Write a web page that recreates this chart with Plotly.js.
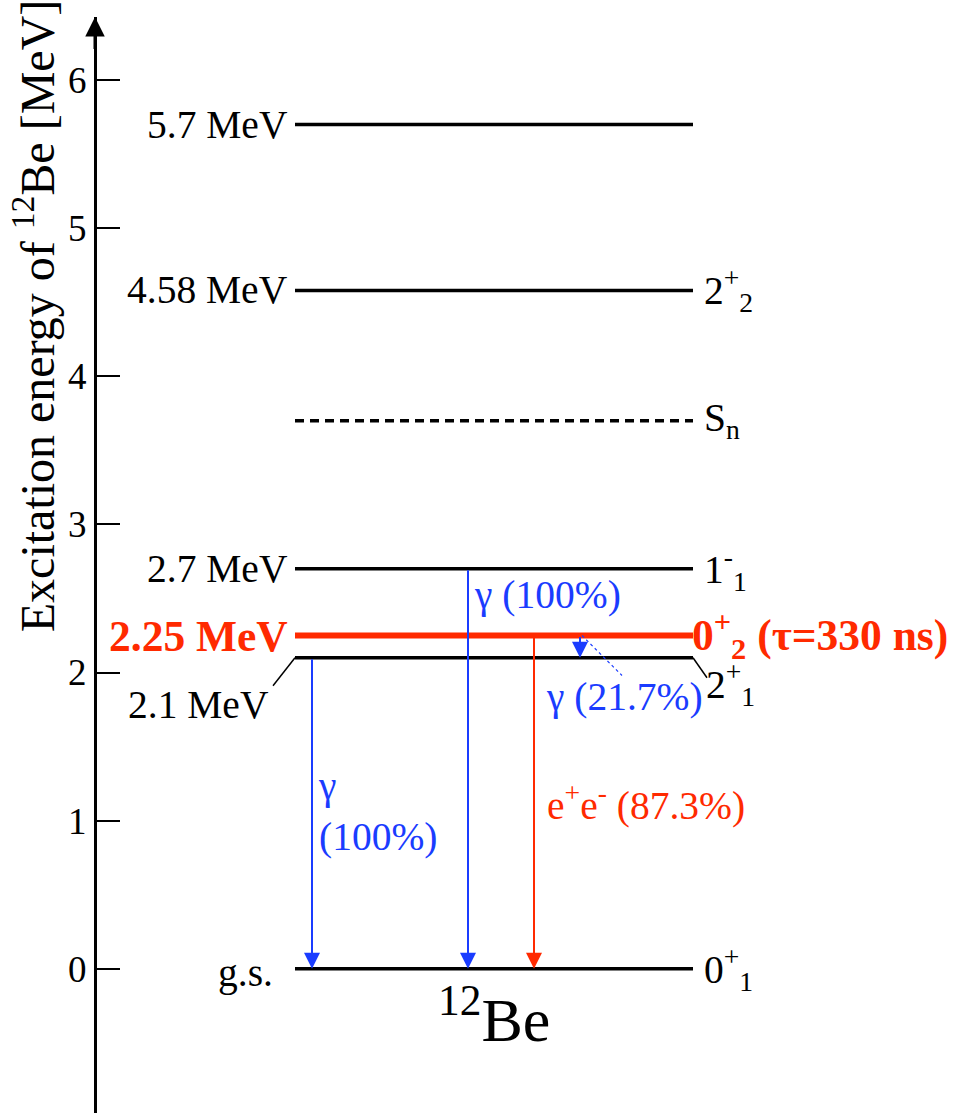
<!DOCTYPE html>
<html>
<head>
<meta charset="utf-8">
<script src="https://cdn.plot.ly/plotly-3.0.1.min.js"></script>
<style>html,body{margin:0;padding:0;background:#fff;}#chart{width:961px;height:1113px;}</style>
</head>
<body>
<div id="chart"></div>
<script>
// ---- data ----
const levelEnergy = [5.7, 4.58, 3.7, 2.7, 2.25, 2.1, 0];
const levelLeftLabel = ['5.7 MeV', '4.58 MeV', '', '2.7 MeV', '<b>2.25 MeV</b>', '2.1 MeV', 'g.s.'];
const levelRightLabel = ['', '2<sup>+</sup><sub>2</sub>', 'S<sub>n</sub>', '1<sup>-</sup><sub>1</sub>',
  '<b>0<sup>+</sup><sub>2</sub> (τ=330 ns)</b>', '2<sup>+</sup><sub>1</sub>', '0<sup>+</sup><sub>1</sub>'];
const levelKind = ['normal', 'normal', 'threshold', 'normal', 'highlight', 'normal', 'normal'];

const transFrom = [2.1, 2.7, 2.25, 2.25];
const transTo = [0, 0, 0, 2.1];
const transType = ['gamma', 'gamma', 'pair', 'gamma'];
const transLabel = ['γ<br>(100%)', 'γ (100%)', 'e<sup>+</sup>e<sup>-</sup> (87.3%)', 'γ (21.7%)'];

const yTickVals = [0, 1, 2, 3, 4, 5, 6];
const yTickText = ['0', '1', '2', '3', '4', '5', '6'];
const yTitle = 'Excitation energy of <sup>12</sup>Be [MeV]';
const nucleus = '<sup>12</sup>Be';

// ---- styles / layout positions ----
const BLUE = '#1a3cff', RED = '#ff2a00', BLACK = '#000000';
const FONT = 'Liberation Serif';
const X0 = 295, X1 = 693;
const transX = [312, 468, 534, 580];
const transLabelPos = [[316, 1.06], [472, 2.523], [545, 1.12], [544, 1.835]];
const PX = 148.1; // px per MeV

const traces = [];
const annotations = [];

levelEnergy.forEach((e, i) => {
  const k = levelKind[i];
  traces.push({
    type: 'scatter', mode: 'lines', x: [X0, X1], y: [e, e], hoverinfo: 'skip', showlegend: false,
    line: {
      color: k === 'highlight' ? RED : BLACK,
      width: k === 'highlight' ? 6 : 3.5,
      dash: k === 'threshold' ? '9px,6px' : 'solid'
    }
  });
  const col = k === 'highlight' ? RED : BLACK;
  const fs = k === 'highlight' ? 43.5 : 39.5;
  if (levelLeftLabel[i]) {
    let x = 290, y = e;
    if (e === 2.1) { x = 271; y = e - 0.32; }
    if (e === 0) { x = 275; y = e - 0.03; }
    annotations.push({x: x, y: y, xref: 'x', yref: 'y', text: levelLeftLabel[i], showarrow: false,
      xanchor: 'right', yanchor: 'middle', font: {family: FONT, size: fs, color: col}});
  }
  if (levelRightLabel[i]) {
    let x = 702, y = e;
    if (k === 'highlight') x = 690;
    if (e === 2.1) { x = 704; y = e - 0.18; }
    annotations.push({x: x, y: y, xref: 'x', yref: 'y', text: levelRightLabel[i], showarrow: false,
      xanchor: 'left', yanchor: 'middle', font: {family: FONT, size: fs, color: col}});
  }
  if (e === 2.1) {
    // leader lines for the 2.1 MeV level
    traces.push({type: 'scatter', mode: 'lines', x: [273, X0], y: [e - 28 / PX, e], hoverinfo: 'skip',
      showlegend: false, line: {color: BLACK, width: 1.5}});
    traces.push({type: 'scatter', mode: 'lines', x: [X1, 707], y: [e, e - 20 / PX], hoverinfo: 'skip',
      showlegend: false, line: {color: BLACK, width: 1.5}});
  }
});

transFrom.forEach((f, i) => {
  const col = transType[i] === 'pair' ? RED : BLUE;
  annotations.push({x: transX[i], y: transTo[i], ax: transX[i], ay: f, xref: 'x', yref: 'y', axref: 'x', ayref: 'y',
    text: '', showarrow: true, arrowhead: 2, arrowsize: 1.6, arrowwidth: 2, arrowcolor: col, standoff: 0});
  annotations.push({x: transLabelPos[i][0], y: transLabelPos[i][1], xref: 'x', yref: 'y', text: transLabel[i],
    showarrow: false, xanchor: 'left', yanchor: 'middle', align: 'left',
    font: {family: FONT, size: 39.5, color: col}});
});
// dotted pointer from the small gamma arrow to its label
traces.push({type: 'scatter', mode: 'lines', x: [transX[3] + 2, 622], y: [transFrom[3], transFrom[3] - 40 / PX],
  hoverinfo: 'skip', showlegend: false, line: {color: BLUE, width: 1.2, dash: 'dot'}});

// axis arrow head
annotations.push({x: 95, y: 6.426, ax: 95, ay: 6.2, xref: 'x', yref: 'y', axref: 'x', ayref: 'y',
  text: '', showarrow: true, arrowhead: 2, arrowsize: 1.3, arrowwidth: 3, arrowcolor: BLACK, standoff: 0});
// y title
annotations.push({x: 34 / 961, y: 0.727, xref: 'paper', yref: 'paper', text: yTitle, textangle: -90,
  showarrow: false, xanchor: 'center', yanchor: 'middle', font: {family: FONT, size: 48, color: BLACK}});
// nucleus label
annotations.push({x: 494, y: -0.31, xref: 'x', yref: 'y', text: nucleus, showarrow: false,
  xanchor: 'center', yanchor: 'middle', font: {family: FONT, size: 62, color: BLACK}});

const layout = {
  width: 961, height: 1113,
  margin: {l: 0, r: 0, t: 17, b: 0, pad: 0},
  paper_bgcolor: '#fff', plot_bgcolor: '#fff',
  font: {family: FONT, color: BLACK},
  showlegend: false,
  xaxis: {range: [0, 961], visible: false, fixedrange: true},
  yaxis: {range: [-0.974, 6.426], anchor: 'free', position: 95 / 961, side: 'left',
    showline: true, linewidth: 3, linecolor: BLACK, showgrid: false, zeroline: false,
    ticks: 'inside', ticklen: 23, tickwidth: 2, tickcolor: BLACK,
    tickvals: yTickVals, ticktext: yTickText, tickfont: {family: FONT, size: 37, color: BLACK},
    fixedrange: true},
  annotations: annotations
};

Plotly.newPlot('chart', traces, layout, {displayModeBar: false, staticPlot: true});
</script>
</body>
</html>
